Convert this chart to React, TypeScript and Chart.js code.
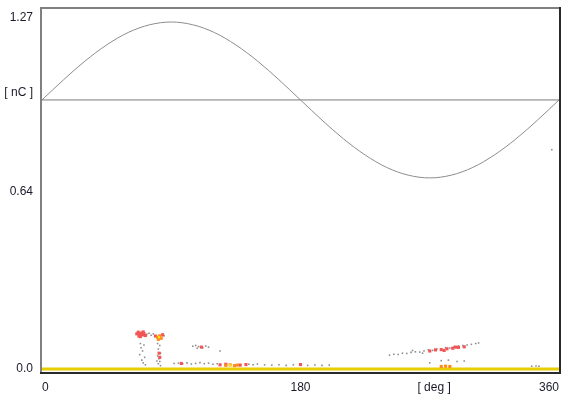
import React, { useEffect, useRef } from "react";
import { Chart, registerables } from "chart.js";

Chart.register(...registerables);

type P = [number, number];

const phaseDeg: number[] = [0, 15, 30, 45, 60, 75, 90, 105, 120, 135, 150, 165, 180, 195, 210, 225, 240, 255, 270, 285, 300, 315, 330, 345, 360];
const sineNC: number[] = [0.966, 1.039, 1.107, 1.165, 1.21, 1.238, 1.248, 1.238, 1.21, 1.165, 1.107, 1.039, 0.966, 0.893, 0.825, 0.767, 0.722, 0.694, 0.684, 0.694, 0.722, 0.767, 0.825, 0.893, 0.966];
const refLevel = 0.966;
const zeroLevel = -0.007;

const xTickValues: number[] = [0, 180, 273, 360];
const xTickLabels: string[] = ["0", "180", "[ deg ]", "360"];
const yTickValues: number[] = [0, 0.64, 1.0, 1.27];
const yTickLabels: string[] = ["0.0", "0.64", "[ nC ]", "1.27"];

const grayPoints: P[] = [
  [73, 0.118], [74.5, 0.122], [76, 0.115], [77.5, 0.12], [84, 0.12], [85, 0.113],
  [68.5, 0.085], [71, 0.08], [69, 0.07], [70, 0.058], [68, 0.045], [71.5, 0.035], [69.5, 0.025], [70.5, 0.015], [72, 0.008],
  [80.5, 0.085], [82, 0.078], [81, 0.065], [82.5, 0.05], [80.5, 0.04], [81.5, 0.03], [82, 0.02], [81, 0.012], [82.5, 0.005], [80, 0.022],
  [105, 0.075], [107, 0.078], [109, 0.074], [110.5, 0.072], [112, 0.07], [114, 0.076], [116, 0.072], [108, 0.068], [124, 0.058],
  [92, 0.013], [95, 0.014], [98, 0.012], [101, 0.015], [104, 0.011], [107, 0.013], [110, 0.016], [113, 0.012], [116, 0.014], [119, 0.01], [122, 0.012], [144, 0.01], [147, 0.008], [150, 0.011],
  [155, 0.008], [160, 0.007], [165, 0.008], [170, 0.006], [175, 0.008], [180, 0.007], [185, 0.006], [190, 0.007], [195, 0.006], [200, 0.007],
  [242, 0.043], [245, 0.046], [248, 0.045], [251, 0.05], [254, 0.049], [257, 0.053], [260, 0.055], [263, 0.054], [266, 0.058], [269, 0.062], [272, 0.06], [275, 0.065], [278, 0.066], [281, 0.07], [284, 0.069], [287, 0.074], [290, 0.076], [293, 0.078], [296, 0.08], [299, 0.082], [302, 0.085], [304, 0.087], [258, 0.06], [265, 0.05],
  [270, 0.015], [278, 0.023], [283, 0.025], [289, 0.02], [294, 0.022],
  [341, 0.003], [344, 0.004], [346, 0.003],
  [355, 0.786],
];

const redPoints: P[] = [
  [66, 0.12], [67, 0.126], [68, 0.118], [69, 0.123], [70, 0.116], [71, 0.121], [72, 0.114], [68.5, 0.11], [70.5, 0.127], [67.5, 0.112],
  [79, 0.112], [84, 0.116], [111, 0.072], [82, 0.035], [81.5, 0.05],
  [97, 0.013], [124, 0.008], [128, 0.01], [138, 0.007], [142, 0.009], [180, 0.009],
  [270, 0.058], [274, 0.062], [278, 0.063], [282, 0.066], [286, 0.068], [290, 0.071], [294, 0.073], [280, 0.06], [288, 0.072],
];

const orangePoints: P[] = [
  [80.5, 0.108], [82, 0.113], [83, 0.104], [81, 0.1],
  [128, 0.006], [131, 0.008], [134, 0.005], [136, 0.007],
  [278, 0.002], [281, 0.003], [284, 0.002],
];

const yellowPoints: P[] = [[81.5, 0.108], [131, 0.006]];

const toXY = (pts: P[]) => pts.map(([x, y]) => ({ x, y }));

const zeroPad = (s: any) => {
  s.paddingTop = 0;
  s.paddingBottom = 0;
  s.paddingLeft = 0;
  s.paddingRight = 0;
};

export default function App() {
  const ref = useRef<HTMLCanvasElement | null>(null);

  useEffect(() => {
    document.body.style.margin = "0";
    const canvas = ref.current;
    if (!canvas) return;

    const borderPlugin = {
      id: "frameBorder",
      afterDraw(chart: any) {
        const { ctx, chartArea: a } = chart;
        ctx.save();
        ctx.lineWidth = 2;
        ctx.strokeStyle = "#808080";
        ctx.beginPath();
        ctx.moveTo(a.left - 1, a.bottom);
        ctx.lineTo(a.left - 1, a.top - 1);
        ctx.lineTo(a.right, a.top - 1);
        ctx.stroke();
        ctx.strokeStyle = "#2a2a2a";
        ctx.beginPath();
        ctx.moveTo(a.right + 1, a.top - 2);
        ctx.lineTo(a.right + 1, a.bottom + 1);
        ctx.lineTo(a.left - 2, a.bottom + 1);
        ctx.stroke();
        ctx.restore();
      },
    };

    const chart = new Chart(canvas, {
      type: "scatter",
      data: {
        datasets: [
          { data: toXY(yellowPoints), backgroundColor: "#ffe600", borderWidth: 0, pointRadius: 1.6, pointStyle: "rect" },
          { data: toXY(orangePoints), backgroundColor: "#ff8a1e", borderWidth: 0, pointRadius: 2.2, pointStyle: "rect" },
          { data: toXY(redPoints), backgroundColor: "#f25555", borderWidth: 0, pointRadius: 2.2, pointStyle: "rect" },
          { data: toXY(grayPoints), backgroundColor: "#8a8a8a", borderWidth: 0, pointRadius: 1.1, pointStyle: "rect" },
          {
            type: "line",
            data: [{ x: 0, y: zeroLevel }, { x: 360, y: zeroLevel }],
            borderColor: "#e8cc00",
            borderWidth: 3,
            pointRadius: 0,
          } as any,
          {
            type: "line",
            data: [{ x: 0, y: refLevel }, { x: 360, y: refLevel }],
            borderColor: "#7a7a7a",
            borderWidth: 1,
            pointRadius: 0,
          } as any,
          {
            type: "line",
            data: phaseDeg.map((x, i) => ({ x, y: sineNC[i] })),
            borderColor: "#8c8c8c",
            borderWidth: 1,
            pointRadius: 0,
            cubicInterpolationMode: "monotone",
          } as any,
        ],
      },
      options: {
        animation: false,
        responsive: false,
        maintainAspectRatio: false,
        layout: { padding: { top: 9, right: 3, left: 0, bottom: 0 } },
        plugins: { legend: { display: false }, tooltip: { enabled: false } },
        scales: {
          x: {
            type: "linear",
            min: 0,
            max: 360,
            grid: { display: false, drawTicks: false },
            border: { display: false },
            afterBuildTicks: (s: any) => {
              s.ticks = xTickValues.map((v) => ({ value: v }));
            },
            afterFit: (s: any) => {
              s.height = 22;
              zeroPad(s);
            },
            ticks: {
              align: "inner",
              padding: 8,
              maxRotation: 0,
              autoSkip: false,
              color: "#1a1a2a",
              font: { family: "Liberation Sans, Arial, sans-serif", size: 12 },
              callback: (v: any) => {
                const i = xTickValues.indexOf(Number(v));
                return i >= 0 ? xTickLabels[i] : "";
              },
            },
          },
          y: {
            type: "linear",
            min: -0.018,
            max: 1.295,
            grid: { display: false, drawTicks: false },
            border: { display: false },
            afterBuildTicks: (s: any) => {
              s.ticks = yTickValues.map((v) => ({ value: v }));
            },
            afterFit: (s: any) => {
              s.width = 42;
              zeroPad(s);
            },
            ticks: {
              padding: 9,
              labelOffset: 2,
              autoSkip: false,
              color: "#1a1a2a",
              font: { family: "Liberation Sans, Arial, sans-serif", size: 12 },
              callback: (v: any) => {
                const i = yTickValues.indexOf(Number(v));
                return i >= 0 ? yTickLabels[i] : "";
              },
            },
          },
        },
      },
      plugins: [borderPlugin],
    });

    return () => chart.destroy();
  }, []);

  return (
    <div style={{ width: 563, height: 394, background: "#fff" }}>
      <canvas ref={ref} width={563} height={394} style={{ display: "block" }} />
    </div>
  );
}
